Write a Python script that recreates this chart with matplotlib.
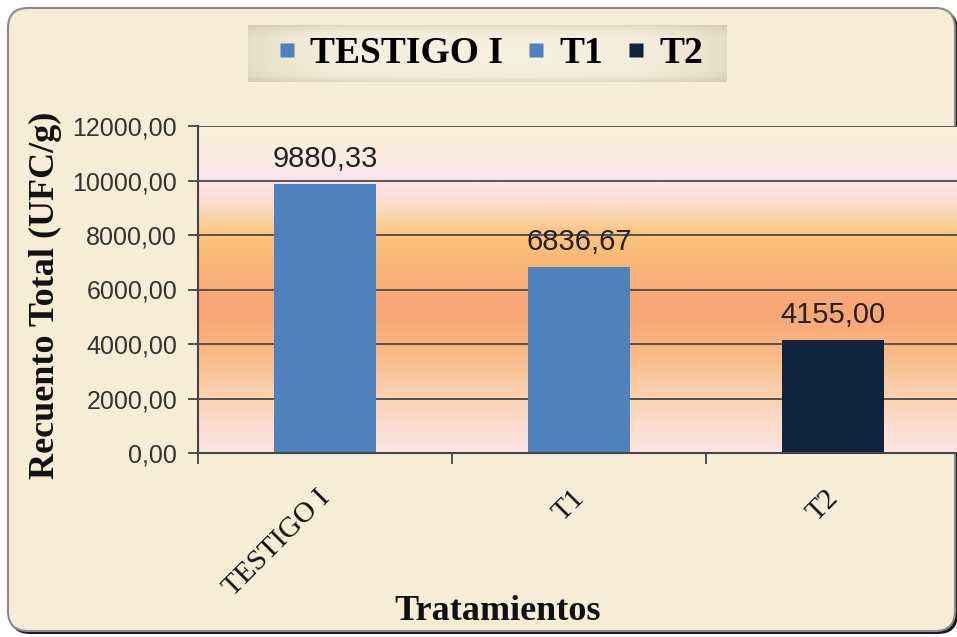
import matplotlib

matplotlib.use("Agg")
import matplotlib.pyplot as plt
import numpy as np
from matplotlib.colors import LinearSegmentedColormap
from matplotlib.lines import Line2D
from matplotlib.patches import FancyBboxPatch
from matplotlib.transforms import offset_copy

CATEGORIES = ["TESTIGO I", "T1", "T2"]
VALUES = [9880.33, 6836.67, 4155.00]
VALUE_LABELS = ["9880,33", "6836,67", "4155,00"]
BAR_COLORS = ["#4F81BD", "#4F81BD", "#12243D"]
Y_TICKS = [0, 2000, 4000, 6000, 8000, 10000, 12000]
Y_TICK_LABELS = ["0,00", "2000,00", "4000,00", "6000,00", "8000,00", "10000,00", "12000,00"]

SERIF = "Liberation Serif"
SANS = "Liberation Sans"
PAPER = "#F7EDD7"

# vertical fill of the plot area (fraction of height, colour)
FILL_STOPS = [
    (0.00, "#FDE5E3"),
    (0.08, "#FCDDD0"),
    (0.17, "#FBD2B2"),
    (0.25, "#FAC596"),
    (0.33, "#F9B580"),
    (0.42, "#F8A676"),
    (0.50, "#F8AB76"),
    (0.60, "#F9BA78"),
    (0.667, "#FAC47E"),
    (0.70, "#FBCE98"),
    (0.76, "#FBDCC8"),
    (0.833, "#FBE3EF"),
    (0.90, "#FCEBE2"),
    (1.00, "#FBF0DA"),
]


def main() -> None:
    fig = plt.figure(figsize=(9.57, 6.37), dpi=100, facecolor="white")

    # rounded frame with dark shadow on bottom/right
    shadow = FancyBboxPatch((0.10, 0.03), 9.48, 6.24, boxstyle="round,pad=0,rounding_size=0.2",
                            transform=fig.dpi_scale_trans, facecolor="#1B1B1B", edgecolor="none", zorder=-3)
    frame = FancyBboxPatch((0.08, 0.06), 9.47, 6.23, boxstyle="round,pad=0,rounding_size=0.2",
                           transform=fig.dpi_scale_trans, facecolor=PAPER, edgecolor="#8A8A8A",
                           linewidth=1.5, zorder=-2)
    fig.patches.extend([shadow, frame])

    ax = fig.add_axes([198 / 957, 1 - 453 / 637, 759 / 957, 327 / 637])
    ax.set_facecolor("none")
    xmin, xmax = -0.5, -0.5 + 759 / 254
    ax.set_xlim(xmin, xmax)
    ax.set_ylim(0, 12000)

    cmap = LinearSegmentedColormap.from_list("fill", FILL_STOPS)
    grad = np.linspace(0, 1, 256).reshape(-1, 1)
    ax.imshow(grad, cmap=cmap, origin="lower", aspect="auto",
              extent=(xmin, xmax, 0, 12000), zorder=0)

    for y in Y_TICKS[1:]:
        ax.axhline(y, color="#4A4A4A", linewidth=1.3, zorder=1)

    x = np.arange(len(CATEGORIES))
    ax.bar(x, VALUES, width=0.4, color=BAR_COLORS, zorder=2)
    for xi, v, lab in zip(x, VALUES, VALUE_LABELS):
        ax.annotate(lab, (xi, v), xytext=(0, 8), textcoords="offset points",
                    ha="center", va="bottom", fontsize=21, fontfamily=SANS, color="#222222", zorder=3)

    ax.set_yticks(Y_TICKS)
    ax.set_yticklabels(Y_TICK_LABELS, fontsize=18, fontfamily=SANS, color="#333333")
    ax.tick_params(axis="y", length=7, width=1.3, color="#444444", pad=8)

    ax.set_xticks(x)
    ax.set_xticklabels([])
    ax.tick_params(axis="x", which="major", length=0)
    ax.set_xticks([-0.5, 0.5, 1.5], minor=True)
    ax.tick_params(axis="x", which="minor", length=8, width=1.3, color="#444444")

    for side in ["top", "right"]:
        ax.spines[side].set_visible(False)
    for side in ["left", "bottom"]:
        ax.spines[side].set_color("#444444")
        ax.spines[side].set_linewidth(1.5)

    # rotated category labels below the axis
    lab_tr = offset_copy(ax.get_xaxis_transform(), fig=fig, x=-8, y=-32, units="dots")
    for xi, cat in zip(x, CATEGORIES):
        ax.text(xi, 0, cat, transform=lab_tr, rotation=45, rotation_mode="anchor",
                ha="right", va="top", fontsize=21, fontfamily=SERIF, color="#111111")

    fig.text(45 / 957, 1 - 295 / 637, "Recuento Total (UFC/g)", rotation=90, ha="center", va="center",
             fontsize=26, fontweight="bold", fontfamily=SERIF, color="#111111")
    fig.text(498 / 957, 1 - 612 / 637, "Tratamientos", ha="center", va="center",
             fontsize=26, fontweight="bold", fontfamily=SERIF, color="#111111")

    # legend box with soft beige shading
    lx0, lx1, ly0, ly1 = 248 / 957, 727 / 957, 1 - 82 / 637, 1 - 25 / 637
    lax = fig.add_axes([lx0, ly0, lx1 - lx0, ly1 - ly0])
    u = np.linspace(-1, 1, 200)
    v = np.linspace(-1, 1, 40)
    uu, vv = np.meshgrid(u, v)
    shade = np.clip(0.55 * uu ** 4 + 0.6 * vv ** 6, 0, 1)
    lcmap = LinearSegmentedColormap.from_list("leg", ["#F5F0E0", "#D8CDAE"])
    lax.imshow(shade, cmap=lcmap, aspect="auto", extent=(0, 1, 0, 1), vmin=0, vmax=1)
    lax.set_axis_off()

    handles = [Line2D([], [], linestyle="none", marker="s", markersize=10,
                      markerfacecolor=c, markeredgecolor="none") for c in BAR_COLORS]
    fig.legend(handles, CATEGORIES, loc="center", bbox_to_anchor=((lx0 + lx1) / 2 + 0.002, (ly0 + ly1) / 2),
               ncol=3, frameon=False, handlelength=0.6, handletextpad=0.3, columnspacing=0.6,
               prop={"family": SERIF, "weight": "bold", "size": 27})

    fig.savefig("out.png", dpi=100, facecolor=fig.get_facecolor())
    plt.close(fig)


if __name__ == "__main__":
    main()
